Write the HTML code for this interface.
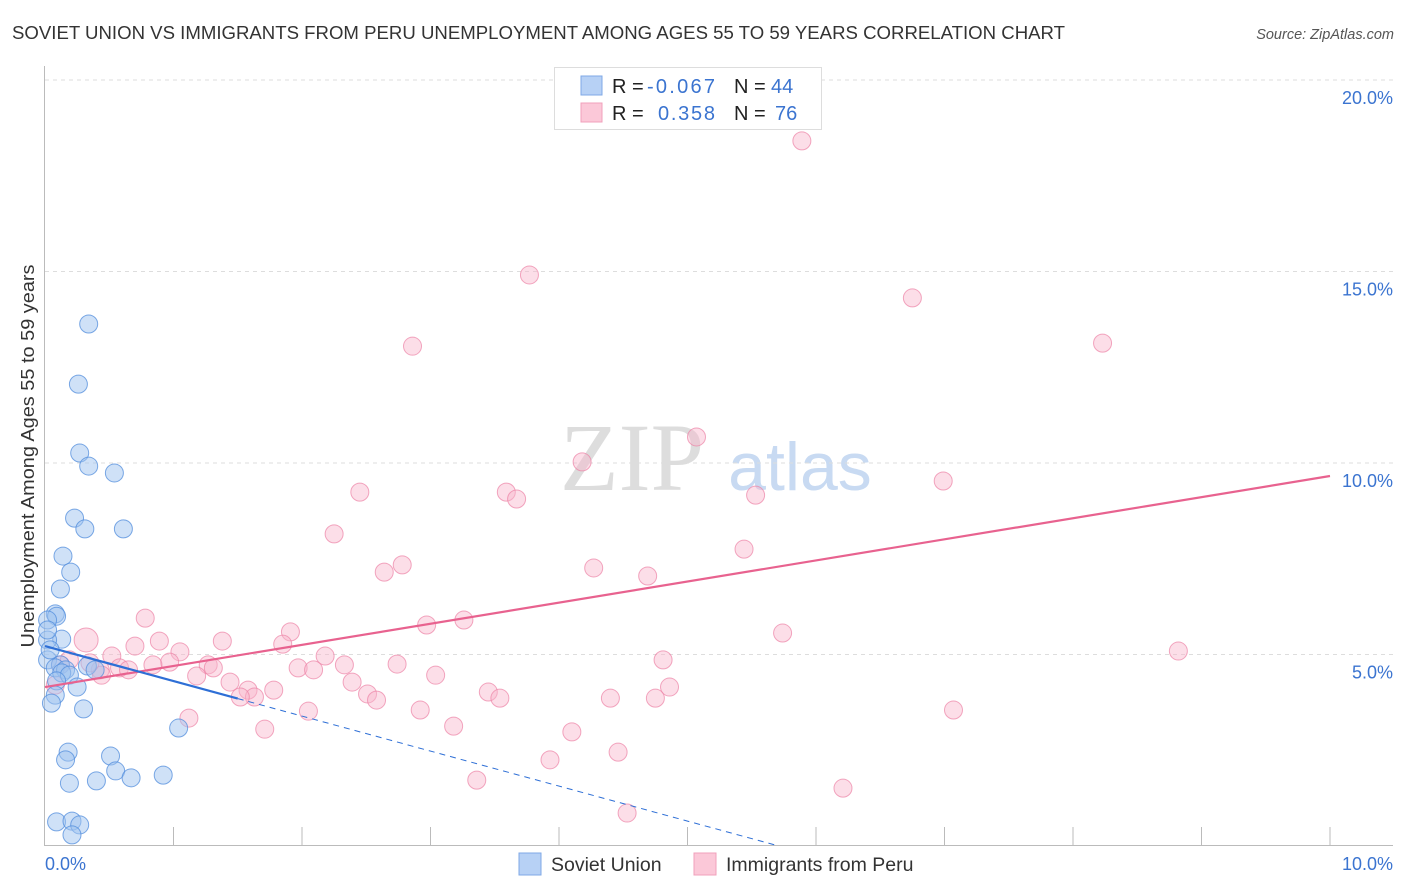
<!DOCTYPE html>
<html><head><meta charset="utf-8"><style>
body{margin:0;background:#fff;font-family:"Liberation Sans",sans-serif}
svg{display:block}
</style></head><body>
<svg id="chart" width="1406" height="892">
<text x="12" y="39" font-size="18" fill="#333" textLength="1053" lengthAdjust="spacingAndGlyphs">SOVIET UNION VS IMMIGRANTS FROM PERU UNEMPLOYMENT AMONG AGES 55 TO 59 YEARS CORRELATION CHART</text>
<text x="1394" y="39" font-size="14.5" fill="#555" font-style="italic" text-anchor="end">Source: ZipAtlas.com</text>
<g>
<text x="632" y="490" font-size="96" font-family="Liberation Serif,serif" fill="#ddd" text-anchor="middle">ZIP</text>
<text x="800" y="490" font-size="68" fill="#c8daf2" text-anchor="middle">atlas</text>
</g>
<g id="grid"></g>
<g id="axes"></g>
<g id="marks"></g>
<text transform="translate(34,456) rotate(-90)" font-size="18" fill="#333" text-anchor="middle" textLength="383" lengthAdjust="spacingAndGlyphs">Unemployment Among Ages 55 to 59 years</text>
<g>
<rect x="554.5" y="67.5" width="267" height="62" fill="#fff" stroke="#ddd"/>
<rect x="581" y="76" width="21" height="19" fill="#b7d1f5" stroke="#7fa8e6"/>
<rect x="581" y="103" width="21" height="19" fill="#fbc8d8" stroke="#f0a0bb"/>
<text x="612" y="93" font-size="20" fill="#222">R = <tspan fill="#3b74d0" x="647" textLength="68">-0.067</tspan></text>
<text x="734" y="93" font-size="20" fill="#222">N = <tspan fill="#3b74d0" x="771">44</tspan></text>
<text x="612" y="120" font-size="20" fill="#222">R = <tspan fill="#3b74d0" x="658" textLength="57">0.358</tspan></text>
<text x="734" y="120" font-size="20" fill="#222">N = <tspan fill="#3b74d0" x="775">76</tspan></text>
</g>
<g>
<rect x="519" y="853" width="22" height="22" fill="#b7d1f5" stroke="#7fa8e6"/>
<text x="551" y="871" font-size="19.5" fill="#333">Soviet Union</text>
<rect x="694" y="853" width="22" height="22" fill="#fbc8d8" stroke="#f0a0bb"/>
<text x="726" y="871" font-size="19.5" fill="#333">Immigrants from Peru</text>
</g>
</svg>
<script>
const xTicks=[0,1,2,3,4,5,6,7,8,9,10];
const yTicks=[5,10,15,20];
const yTickLabels=["5.0%","10.0%","15.0%","20.0%"];
const sovietX=[0.34,0.26,0.27,0.34,0.54,0.23,0.31,0.61,0.14,0.20,0.12,0.08,0.09,0.02,0.13,0.02,0.02,0.12,0.08,0.16,0.33,0.13,0.19,0.09,0.25,0.08,0.05,0.30,1.04,0.18,0.51,0.16,0.55,0.40,0.19,0.67,0.92,0.09,0.21,0.27,0.21,0.02,0.04,0.39];
const sovietY=[13.63,12.06,10.26,9.92,9.74,8.56,8.28,8.28,7.57,7.15,6.71,6.06,6.0,5.90,5.40,5.38,4.86,4.73,4.65,4.60,4.70,4.52,4.46,4.31,4.15,3.94,3.73,3.58,3.08,2.45,2.35,2.25,1.96,1.70,1.64,1.78,1.85,0.63,0.65,0.55,0.29,5.64,5.12,4.60];
const peruX=[5.89,3.77,6.75,2.86,8.23,5.07,4.18,2.45,3.59,3.67,5.53,6.99,2.25,5.44,2.78,2.64,4.27,4.69,0.78,2.97,3.26,0.32,0.70,0.89,1.38,1.91,1.85,5.74,8.82,1.05,0.52,2.18,0.97,0.84,1.27,1.31,0.58,0.65,1.97,2.09,2.33,2.74,4.81,0.43,0.44,1.18,3.04,2.39,1.44,1.78,1.58,1.63,1.52,2.51,2.58,3.45,3.54,4.86,4.40,4.75,2.05,2.92,7.07,1.12,1.71,3.18,4.10,4.46,3.93,3.36,6.21,4.53,0.12,0.19,0.08,0.35];
const peruY=[18.41,14.91,14.31,13.05,13.13,10.68,10.03,9.24,9.24,9.06,9.16,9.53,8.15,7.75,7.34,7.15,7.26,7.05,5.95,5.77,5.90,5.38,5.22,5.35,5.35,5.59,5.27,5.56,5.09,5.07,4.96,4.96,4.80,4.73,4.73,4.65,4.65,4.60,4.65,4.60,4.73,4.75,4.86,4.60,4.46,4.44,4.46,4.28,4.28,4.07,4.07,3.89,3.89,3.97,3.81,4.02,3.86,4.15,3.86,3.86,3.52,3.55,3.55,3.34,3.05,3.13,2.98,2.45,2.25,1.72,1.51,0.86,4.73,4.86,4.20,4.78];
const sovietTrend=[5.22,-0.914]; // intercept, slope
const peruTrend=[4.15,0.551];
const NS="http://www.w3.org/2000/svg";
const X0=45,X1=1330,Y0=846,PY=38.3;
const sx=v=>X0+(X1-X0)*v/10;
const sy=v=>Y0-v*PY;
function mk(tag,attrs,parent){const e=document.createElementNS(NS,tag);for(const k in attrs)e.setAttribute(k,attrs[k]);parent.appendChild(e);return e;}
const grid=document.getElementById('grid'),axes=document.getElementById('axes'),marks=document.getElementById('marks');
yTicks.forEach((t,i)=>{
  const l=mk('line',{x1:45,x2:1393,y1:sy(t),y2:sy(t),stroke:'#ddd','stroke-dasharray':'4,4'},grid);
  
  
  const tx=mk('text',{x:1393,y:sy(t)+24,'font-size':18,fill:'#3b74d0','text-anchor':'end'},axes);
  tx.textContent=yTickLabels[i];
  
  
});
const ax=mk('line',{x1:44.5,x2:44.5,y1:66,y2:846,stroke:'#bbb'},axes);


const bx=mk('line',{x1:44,x2:1393,y1:845.5,y2:845.5,stroke:'#bbb'},axes);


xTicks.forEach(t=>{if(t===0)return;
  const l=mk('line',{x1:sx(t),x2:sx(t),y1:827,y2:846,stroke:'#bbb'},axes);
  
  
});
const xl0=mk('text',{x:45,y:870,'font-size':18,fill:'#3b74d0'},axes);xl0.textContent='0.0%';


const xl1=mk('text',{x:1393,y:870,'font-size':18,fill:'#3b74d0','text-anchor':'end'},axes);xl1.textContent='10.0%';


peruX.forEach((v,i)=>{
  const c=mk('circle',{cx:sx(v),cy:sy(peruY[i]),r:(i===21?12:9),fill:'rgba(248,182,204,0.45)',stroke:'rgba(236,130,165,0.7)','stroke-width':1},marks);
  
  
});
sovietX.forEach((v,i)=>{
  const c=mk('circle',{cx:sx(v),cy:sy(sovietY[i]),r:9,fill:'rgba(160,195,240,0.5)',stroke:'rgba(80,140,220,0.75)','stroke-width':1},marks);
  
  
});
const pl=mk('line',{x1:sx(0),y1:sy(peruTrend[0]),x2:sx(10),y2:sy(peruTrend[0]+peruTrend[1]*10),stroke:'#e8628f','stroke-width':2.2},marks);


const bs=mk('line',{x1:sx(0),y1:sy(sovietTrend[0]),x2:sx(1.5),y2:sy(sovietTrend[0]+sovietTrend[1]*1.5),stroke:'#2e6fd6','stroke-width':2.2},marks);


const xe=-sovietTrend[0]/sovietTrend[1];
const bd=mk('line',{x1:sx(1.5),y1:sy(sovietTrend[0]+sovietTrend[1]*1.5),x2:sx(xe),y2:sy(0),stroke:'#2e6fd6','stroke-width':1,'stroke-dasharray':'6,5'},marks);


</script>
</body></html>
